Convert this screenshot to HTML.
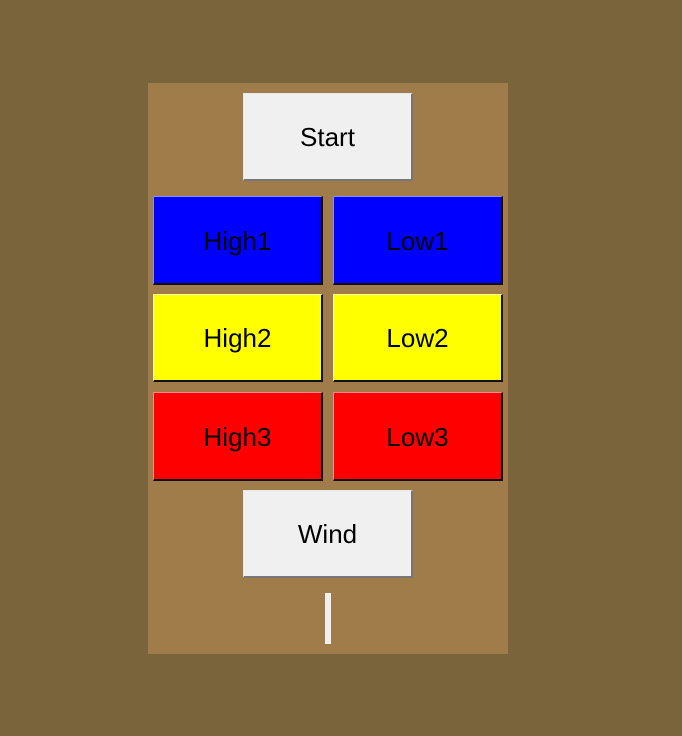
<!DOCTYPE html>
<html><head><style>
body{margin:0;width:682px;height:736px;background:#7a643c;position:relative;font-family:"Liberation Sans",sans-serif;overflow:hidden}
#panel{position:absolute;left:148px;top:83px;width:360px;height:571px;background:#a07c4a}
.b{position:absolute;box-sizing:border-box;display:flex;align-items:center;justify-content:center;font-size:26px;padding-top:2px;color:#000;border-top:1px solid #e8e8e8;border-left:1px solid #e8e8e8;border-right:2px solid #777;border-bottom:2px solid #777}
.c{border-right-color:#111;border-bottom-color:#111;border-top-color:#8888ff;border-left-color:#8888ff}
</style></head><body>
<div id="panel"></div>
<div class="b" style="left:243px;top:93px;width:170px;height:88px;background:#f0f0f0">Start</div>
<div class="b c" style="left:153px;top:196px;width:170px;height:89px;background:#0000ff">High1</div>
<div class="b c" style="left:333px;top:196px;width:170px;height:89px;background:#0000ff">Low1</div>
<div class="b c" style="left:153px;top:294px;width:170px;height:88px;background:#ffff00;border-top-color:#ffffaa;border-left-color:#ffffaa">High2</div>
<div class="b c" style="left:333px;top:294px;width:170px;height:88px;background:#ffff00;border-top-color:#ffffaa;border-left-color:#ffffaa">Low2</div>
<div class="b c" style="left:153px;top:392px;width:170px;height:89px;background:#ff0000;border-top-color:#ff8888;border-left-color:#ff8888">High3</div>
<div class="b c" style="left:333px;top:392px;width:170px;height:89px;background:#ff0000;border-top-color:#ff8888;border-left-color:#ff8888">Low3</div>
<div class="b" style="left:243px;top:490px;width:170px;height:88px;background:#f0f0f0">Wind</div>
<div style="position:absolute;left:325px;top:593px;width:6px;height:51px;background:#f0f0f0"></div>
</body></html>
